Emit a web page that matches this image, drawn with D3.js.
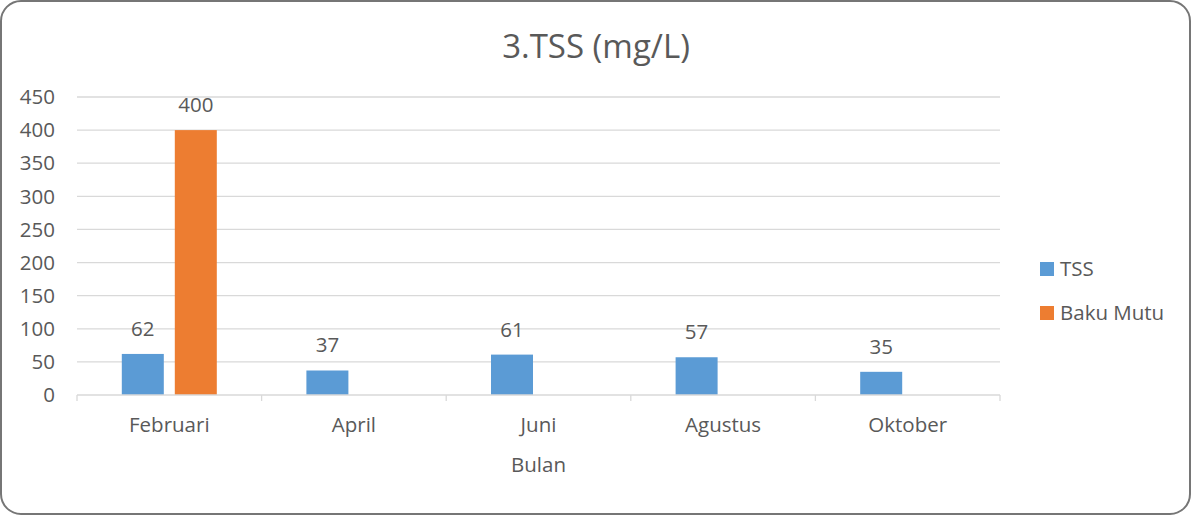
<!DOCTYPE html>
<html>
<head>
<meta charset="utf-8">
<style>
    body { margin: 0; background: #fff; }
    text { font-family: "Open Sans", sans-serif; fill: #595959; }
</style>
</head>
<body>
<script src="https://d3js.org/d3.v7.min.js"></script>
<script>
    var months = ["Februari", "April", "Juni", "Agustus", "Oktober"];
    var tss = [62, 37, 61, 57, 35];
    var bakuMutu = [400, null, null, null, null];
    var seriesNames = ["TSS", "Baku Mutu"];
    var colors = ["#5b9bd5", "#ed7d31"];
    var yTicks = [0, 50, 100, 150, 200, 250, 300, 350, 400, 450];

    var W = 1192, H = 518;
    var m = { left: 77, right: 192, top: 97, bottom: 123 };
    var fs = "20.5px";

    var svg = d3.select("body").append("svg")
        .attr("width", W)
        .attr("height", H);

    // frame
    svg.append("rect")
        .attr("x", 1).attr("y", 1)
        .attr("width", W - 3).attr("height", H - 5)
        .attr("rx", 20).attr("ry", 20)
        .attr("fill", "#fff")
        .attr("stroke", "#767676")
        .attr("stroke-width", 2);

    var x = d3.scaleBand()
        .domain(months)
        .range([m.left, W - m.right]);

    var y = d3.scaleLinear()
        .domain([0, 450])
        .range([H - m.bottom, m.top]);

    // gridlines
    svg.append("g")
        .selectAll("line")
        .data(yTicks.slice(1))
        .enter()
        .append("line")
        .attr("x1", m.left).attr("x2", W - m.right)
        .attr("y1", d => y(d)).attr("y2", d => y(d))
        .attr("stroke", "#d9d9d9")
        .attr("stroke-width", 1.3);

    // y labels
    svg.append("g")
        .selectAll("text")
        .data(yTicks)
        .enter()
        .append("text")
        .attr("x", 55)
        .attr("y", d => y(d))
        .attr("dy", "0.35em")
        .attr("text-anchor", "end")
        .style("font-size", fs)
        .text(d => d);

    // bars
    var barW = 42, gap = 11;
    var series = [tss, bakuMutu];
    series.forEach(function (vals, s) {
        var off = s == 0 ? -gap / 2 - barW : gap / 2;
        var g = svg.append("g");
        months.forEach(function (mo, i) {
            if (vals[i] == null) return;
            var cx = x(mo) + x.bandwidth() / 2;
            g.append("rect")
                .attr("x", cx + off)
                .attr("y", y(vals[i]))
                .attr("width", barW)
                .attr("height", y(0) - y(vals[i]))
                .attr("fill", colors[s]);
            g.append("text")
                .attr("x", cx + off + barW / 2)
                .attr("y", y(vals[i]) - 18)
                .attr("text-anchor", "middle")
                .style("font-size", fs)
                .text(vals[i]);
        });
    });

    // x axis
    var xAxis = svg.append("g");
    xAxis.append("line")
        .attr("x1", m.left).attr("x2", W - m.right)
        .attr("y1", y(0)).attr("y2", y(0))
        .attr("stroke", "#d9d9d9").attr("stroke-width", 1.3);
    xAxis.selectAll(".tick")
        .data(months.concat([null]))
        .enter()
        .append("line")
        .attr("x1", (d, i) => i < months.length ? x(d) : W - m.right)
        .attr("x2", (d, i) => i < months.length ? x(d) : W - m.right)
        .attr("y1", y(0)).attr("y2", y(0) + 6)
        .attr("stroke", "#d9d9d9").attr("stroke-width", 1.3);
    xAxis.selectAll(".lbl")
        .data(months)
        .enter()
        .append("text")
        .attr("x", d => x(d) + x.bandwidth() / 2)
        .attr("y", 432)
        .attr("text-anchor", "middle")
        .style("font-size", fs)
        .text(d => d);

    svg.append("text")
        .attr("x", x.range()[0] + (x.range()[1] - x.range()[0]) / 2)
        .attr("y", 472)
        .attr("text-anchor", "middle")
        .style("font-size", fs)
        .text("Bulan");

    // title
    svg.append("text")
        .attr("x", 596)
        .attr("y", 58)
        .attr("text-anchor", "middle")
        .style("font-size", "33px")
        .text("3.TSS (mg/L)");

    // legend
    var leg = svg.append("g");
    seriesNames.forEach(function (n, i) {
        var ly = 269 + i * 44;
        leg.append("rect")
            .attr("x", 1040).attr("y", ly - 7)
            .attr("width", 14).attr("height", 14)
            .attr("fill", colors[i]);
        leg.append("text")
            .attr("x", 1060).attr("y", ly)
            .attr("dy", "0.35em")
            .style("font-size", fs)
            .text(n);
    });
</script>
</body>
</html>
